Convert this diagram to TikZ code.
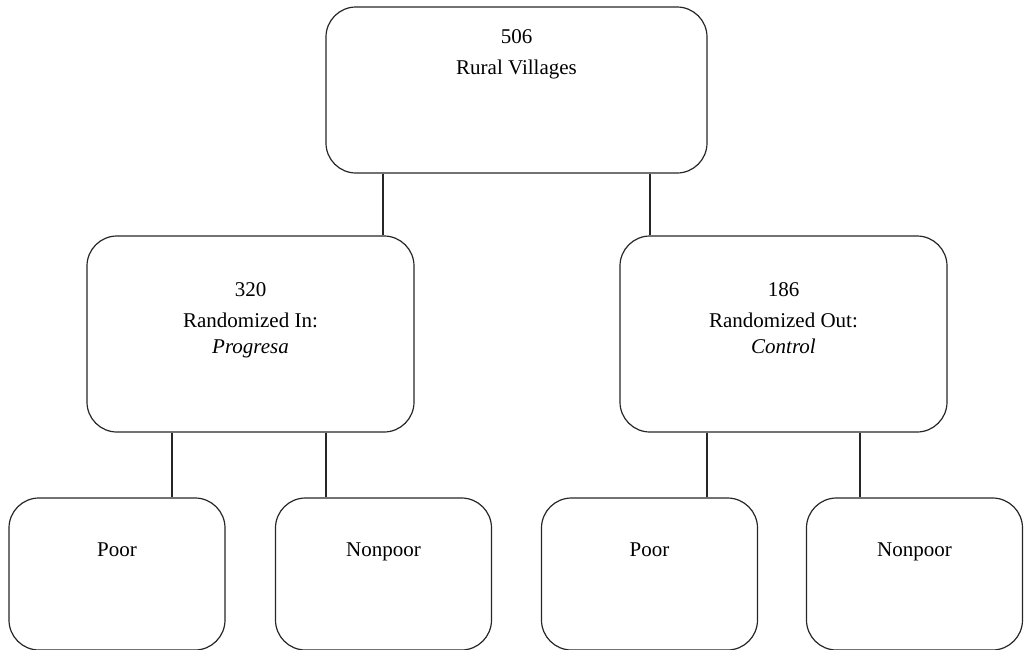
\documentclass[tikz,border=0pt]{standalone}
\usepackage{fontspec}
\setmainfont{Liberation Serif}
\usetikzlibrary{positioning}
\begin{document}
\begin{tikzpicture}[
			x=0.5pt, y=-0.5pt,
			box/.style={draw=black!85, line width=0.6pt, rounded corners=15pt, inner sep=0pt},
			group/.style={box, minimum width=163.5pt, minimum height=98pt},
			subgroup/.style={box, minimum width=108pt, minimum height=76pt},
			txt/.style={align=center, inner sep=0pt, font=\fontsize{10.5}{15.5}\selectfont},
			link/.style={draw=black!85, line width=0.6pt}
		]
		\useasboundingbox (0,0) rectangle (1024,649);

		\node[box, minimum width=190.5pt, minimum height=83pt] (villages) at (516.5,90) {};
		\node[group] (treat) at (250.5,334) {};
		\node[group] (ctrl) at (783.5,334) {};
		\node[subgroup] (treatpoor) at (117,574) {};
		\node[subgroup] (treatnonpoor) at (383.5,574) {};
		\node[subgroup] (ctrlpoor) at (649.5,574) {};
		\node[subgroup] (ctrlnonpoor) at (914.5,574) {};

		\node[txt, below=11.5pt of villages.north] {506\\Rural Villages};
		\node[txt, below=23.2pt of treat.north] {320\\Randomized In:\\[-2.25pt]\textit{Progresa}};
		\node[txt, below=23.2pt of ctrl.north] {186\\Randomized Out:\\[-2.25pt]\textit{Control}};
		\node[txt, below=22.6pt of treatpoor.north] {Poor};
		\node[txt, below=22.6pt of treatnonpoor.north] {Nonpoor};
		\node[txt, below=22.6pt of ctrlpoor.north] {Poor};
		\node[txt, below=22.6pt of ctrlnonpoor.north] {Nonpoor};

		\coordinate (l1) at (383,0);
		\coordinate (l2) at (650,0);
		\coordinate (l3) at (172,0);
		\coordinate (l4) at (326,0);
		\coordinate (l5) at (707,0);
		\coordinate (l6) at (860,0);

		\draw[link] (villages.south -| l1) -- (treat.north -| l1);
		\draw[link] (villages.south -| l2) -- (ctrl.north -| l2);
		\draw[link] (treat.south -| l3) -- (treatpoor.north -| l3);
		\draw[link] (treat.south -| l4) -- (treatnonpoor.north -| l4);
		\draw[link] (ctrl.south -| l5) -- (ctrlpoor.north -| l5);
		\draw[link] (ctrl.south -| l6) -- (ctrlnonpoor.north -| l6);
	\end{tikzpicture}
\end{document}
